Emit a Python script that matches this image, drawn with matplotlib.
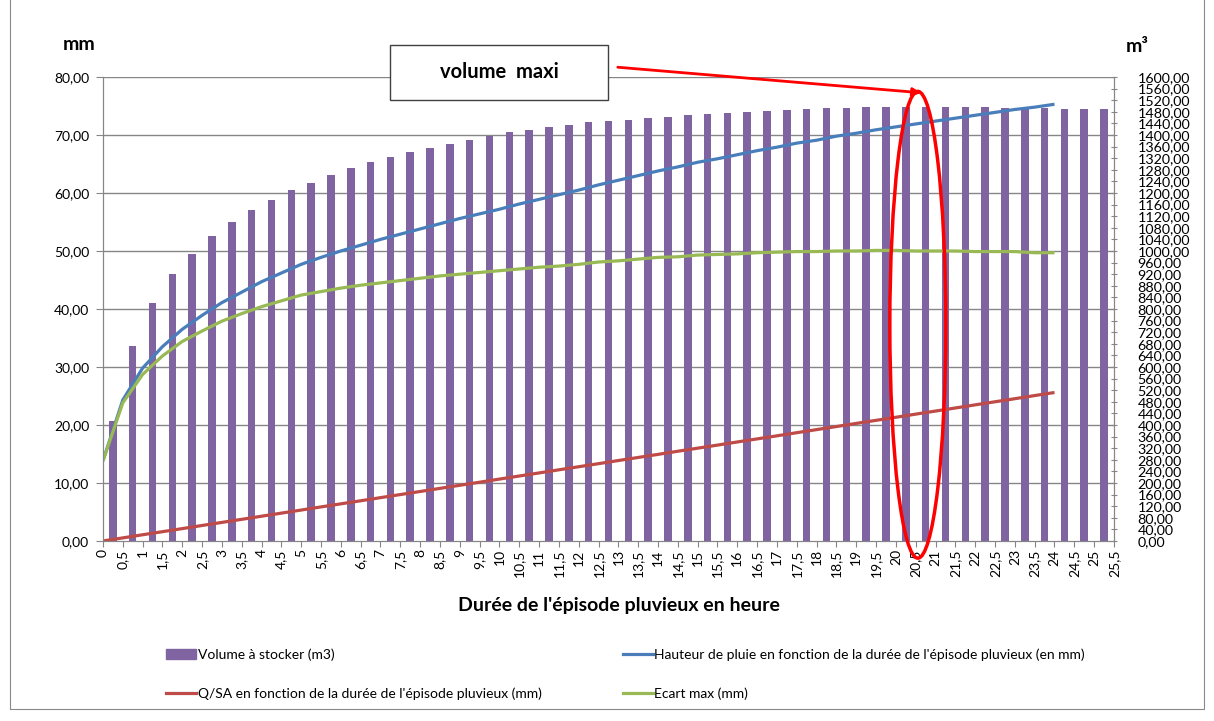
import matplotlib.pyplot as plt
import numpy as np
from matplotlib.patches import Ellipse, Rectangle, FancyArrowPatch, Patch
from matplotlib.lines import Line2D

plt.rcParams['font.family'] = ['Lato', 'DejaVu Sans']

# durées (h) de 0 à 25,5 par pas de 0,5
heures = np.arange(0, 26, 0.5)
labels_x = [f"{h:g}".replace('.', ',') for h in heures]

# volume à stocker (m3), une barre par intervalle de 0,5 h
volume = [414, 672, 820, 920, 990, 1052, 1100, 1142, 1176, 1210,
          1234, 1262, 1286, 1306, 1324, 1342, 1356, 1368, 1382, 1396,
          1410, 1418, 1428, 1434, 1444, 1448, 1452, 1458, 1462, 1468,
          1472, 1476, 1480, 1482, 1486, 1490, 1492, 1494, 1495, 1496,
          1497, 1497, 1496, 1496, 1495, 1494, 1493, 1492, 1491, 1490,
          1489]

# courbes en mm, de 0 à 24 h
t_courbes = heures[:49]
hauteur = [13.8, 24.3, 29.8, 33.5, 36.5, 38.9, 41.1, 42.9, 44.7, 46.2,
           47.7, 48.9, 50.0, 51.0, 52.0, 52.9, 53.8, 54.7, 55.6, 56.4,
           57.2, 58.1, 58.9, 59.7, 60.5, 61.4, 62.2, 63.0, 63.8, 64.5,
           65.3, 65.9, 66.6, 67.3, 67.9, 68.6, 69.1, 69.8, 70.3, 70.9,
           71.4, 71.9, 72.4, 72.9, 73.4, 73.9, 74.4, 74.8, 75.3]
qsa = [0.00, 0.53, 1.07, 1.60, 2.13, 2.67, 3.20, 3.73, 4.27, 4.80,
       5.33, 5.87, 6.40, 6.93, 7.47, 8.00, 8.53, 9.07, 9.60, 10.13,
       10.67, 11.20, 11.73, 12.27, 12.80, 13.33, 13.87, 14.40, 14.93, 15.47,
       16.00, 16.53, 17.07, 17.60, 18.13, 18.67, 19.20, 19.73, 20.27, 20.80,
       21.33, 21.87, 22.40, 22.93, 23.47, 24.00, 24.53, 25.07, 25.60]
ecart = [13.8, 23.8, 28.7, 31.9, 34.4, 36.2, 37.9, 39.2, 40.4, 41.4,
         42.4, 43.0, 43.6, 44.1, 44.5, 44.9, 45.3, 45.7, 46.0, 46.3,
         46.6, 46.9, 47.2, 47.4, 47.7, 48.1, 48.3, 48.6, 48.9, 49.0,
         49.3, 49.4, 49.5, 49.7, 49.8, 49.9, 49.9, 50.0, 50.0, 50.1,
         50.1, 50.0, 50.0, 50.0, 49.9, 49.9, 49.9, 49.7, 49.7]

gris = '#868686'

fig = plt.figure(figsize=(12.14, 7.21), dpi=100)
ax = fig.add_axes([0.0848, 0.2497, 0.8328, 0.6435])
axb = ax.twinx()
ax.set_zorder(axb.get_zorder() + 1)
ax.patch.set_visible(False)

# barres + quadrillage sur l'axe m3
for g in range(200, 1601, 200):
    axb.axhline(g, color=gris, lw=1, zorder=0)
axb.bar(heures[:-1] + 0.25, volume, width=0.19, color='#8064A2', zorder=2)
axb.set_ylim(0, 1600)
yt2 = np.arange(0, 1601, 40)
axb.set_yticks(yt2)
axb.set_yticklabels([f"{v:.2f}".replace('.', ',') for v in yt2], fontsize=10.3)

# courbes sur l'axe mm
ax.plot(t_courbes, hauteur, color='#4A7EBB', lw=2.3, solid_capstyle='butt')
ax.plot(t_courbes, qsa, color='#BE4B48', lw=2.3, solid_capstyle='butt')
ax.plot(t_courbes, ecart, color='#98B954', lw=2.3, solid_capstyle='butt')
ax.set_xlim(0, 25.5)
ax.set_ylim(0, 80)
ax.set_xticks(heures)
ax.set_xticklabels(labels_x, rotation=90, fontsize=10)
yt = np.arange(0, 81, 10)
ax.set_yticks(yt)
ax.set_yticklabels([f"{v:.2f}".replace('.', ',') for v in yt], fontsize=10)

for a in (ax, axb):
    a.spines['top'].set_visible(False)
    for s in ('left', 'right', 'bottom'):
        a.spines[s].set_color(gris)
ax.tick_params(axis='x', length=4, color=gris, pad=2)
ax.tick_params(axis='y', length=5, color=gris, pad=5)
axb.tick_params(axis='y', length=4, color=gris, direction='inout', pad=15)

# titres d'axes
fig.text(79 / 1214, 1 - 45 / 721, 'mm', weight='bold', fontsize=14,
         ha='center', va='center')
fig.text(1137 / 1214, 1 - 47 / 721, 'm³', weight='bold', fontsize=14,
         ha='center', va='center')
fig.text(619 / 1214, 1 - 605 / 721, "Durée de l'épisode pluvieux en heure",
         weight='bold', fontsize=14, ha='center', va='center')

# légende sur deux colonnes
kw = dict(frameon=False, fontsize=10, labelspacing=1.9, handlelength=2.2,
          handletextpad=0.1, borderaxespad=0, loc='upper left')
h1 = [Patch(color='#8064A2'), Line2D([], [], color='#BE4B48', lw=2.3)]
fig.legend(h1, ['Volume à stocker (m3)',
                "Q/SA en fonction de la durée de l'épisode pluvieux (mm)"],
           bbox_to_anchor=(160 / 1214, 1 - 643 / 721), **kw)
h2 = [Line2D([], [], color='#4A7EBB', lw=2.3), Line2D([], [], color='#98B954', lw=2.3)]
fig.legend(h2, ["Hauteur de pluie en fonction de la durée de l'épisode pluvieux (en mm)",
                'Ecart max (mm)'],
           bbox_to_anchor=(617 / 1214, 1 - 643 / 721), **kw)

# encadré "volume maxi" + flèche + ellipse
fig.add_artist(Rectangle((390 / 1214, 1 - 100 / 721), 218 / 1214, 55 / 721,
                         transform=fig.transFigure, facecolor='white',
                         edgecolor='#404040', lw=1))
fig.text(499 / 1214, 1 - 72 / 721, 'volume  maxi', weight='bold', fontsize=14.5,
         ha='center', va='center')
fig.add_artist(FancyArrowPatch((615 / 1214, 1 - 67 / 721), (924 / 1214, 1 - 93 / 721),
                               transform=fig.transFigure, arrowstyle='-|>',
                               mutation_scale=12, color='red', lw=2))
ax.add_patch(Ellipse((0.806, 0.466), 0.0554, 1.006, transform=ax.transAxes,
                     fill=False, edgecolor='red', lw=2.5, clip_on=False, zorder=5))

# cadre du graphique
fig.add_artist(Rectangle((10 / 1214, 1 - 709 / 721), 1194 / 1214, 720 / 721,
                         transform=fig.transFigure, fill=False,
                         edgecolor='#898989', lw=0.8))

fig.savefig('out.png', dpi=100)
